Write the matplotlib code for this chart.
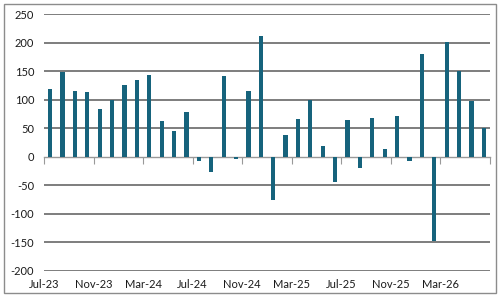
import numpy as np
import matplotlib
matplotlib.use('Agg')
import matplotlib.pyplot as plt
from matplotlib.patches import Rectangle

# monthly values Jul-23 .. Jun-26
months = ["Jul-23", "Aug-23", "Sep-23", "Oct-23", "Nov-23", "Dec-23",
          "Jan-24", "Feb-24", "Mar-24", "Apr-24", "May-24", "Jun-24",
          "Jul-24", "Aug-24", "Sep-24", "Oct-24", "Nov-24", "Dec-24",
          "Jan-25", "Feb-25", "Mar-25", "Apr-25", "May-25", "Jun-25",
          "Jul-25", "Aug-25", "Sep-25", "Oct-25", "Nov-25", "Dec-25",
          "Jan-26", "Feb-26", "Mar-26", "Apr-26", "May-26", "Jun-26"]
values = [118, 148, 115, 114, 83, 100, 126, 135, 143, 63, 45, 78,
          -8, -27, 142, -4, 116, 211, -76, 39, 67, 100, 19, -45,
          65, -20, 68, 13, 72, -8, 180, -147, 201, 150, 97, 50]
yticks = [-200, -150, -100, -50, 0, 50, 100, 150, 200, 250]

plt.rcParams['font.family'] = ['Lato', 'DejaVu Sans']

fig = plt.figure(figsize=(5, 3), dpi=100)
ax = fig.add_axes([0.088, 0.097, 0.892, 0.856])

x = np.arange(len(values)) + 0.5
ax.bar(x, values, width=0.34, color="#16637c", zorder=3)

ax.set_xlim(0, len(values))
ax.set_ylim(-200, 250)
ax.set_yticks(yticks)
ax.set_yticklabels([str(v) for v in yticks], fontsize=8, color="#1a1a1a")
ax.tick_params(axis='y', length=0, pad=7)
for v in yticks:
    if v != 0:
        ax.axhline(v, color="#5a5a5a", lw=1.1, zorder=1)

for s in ['top', 'right', 'left']:
    ax.spines[s].set_visible(False)
ax.spines['bottom'].set_position(('data', 0))
ax.spines['bottom'].set_color("#999999")
ax.spines['bottom'].set_linewidth(1.0)
ax.set_xticks(np.arange(0, len(values) + 1, 4))
ax.tick_params(axis='x', direction='out', length=5, color="#999999", labelbottom=False)

tick_pos = np.arange(0, len(values), 4)
sec = ax.secondary_xaxis('bottom')
sec.set_xticks(tick_pos)
sec.set_xticklabels([months[i] for i in tick_pos], fontsize=8, color="#1a1a1a")
sec.tick_params(length=0, pad=6)
sec.spines['bottom'].set_visible(False)

fig.patches.append(Rectangle((4 / 500, 7 / 300), 492 / 500, 289 / 300,
                             transform=fig.transFigure, fill=False,
                             edgecolor="#8c8c8c", lw=1.0))

fig.savefig("out.png", dpi=100)
